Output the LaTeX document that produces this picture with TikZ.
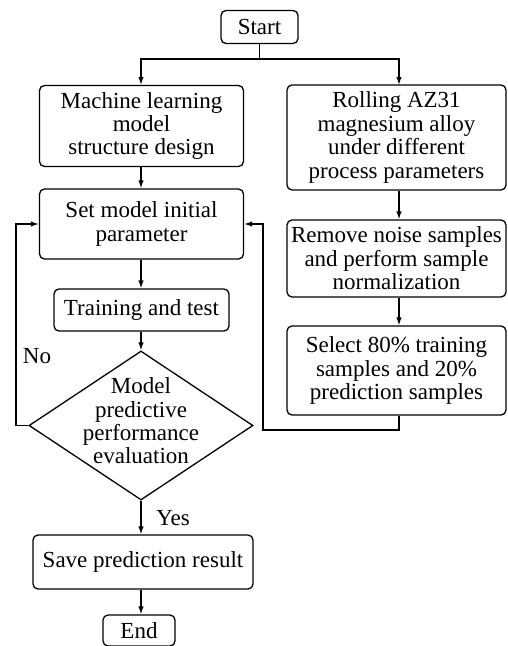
\documentclass[tikz,border=0pt]{standalone}
\usepackage{fontspec}
\setmainfont{Liberation Serif}
\usetikzlibrary{arrows.meta,shapes.geometric}
\begin{document}
\begin{tikzpicture}[x=1pt,y=-1pt,
  box/.style={draw, rounded corners=5pt, line width=1.3pt, align=center, inner sep=0pt, font=\fontsize{23}{23.4}\selectfont},
  lbl/.style={inner sep=0pt, font=\fontsize{23}{23.4}\selectfont},
  arr/.style={-{Latex[length=8pt,width=5.5pt]}, line width=1.3pt},
  ln/.style={line width=1.3pt}]
\useasboundingbox (0,0) rectangle (507,646);

\node[box, minimum width=77pt, minimum height=33pt] (start) at (259.5,27) {Start};
\node[box, minimum width=204pt, minimum height=81pt] (ml) at (141.5,126) {Machine learning\\model\\structure design};
\node[box, minimum width=219pt, minimum height=105pt] (roll) at (396.5,137.5) {Rolling AZ31\\magnesium alloy\\under different\\process parameters};
\node[box, minimum width=204pt, minimum height=70pt] (set) at (141.5,224) {Set model initial\\parameter};
\node[box, minimum width=219pt, minimum height=77pt] (remove) at (396.5,258.5) {Remove noise samples\\and perform sample\\normalization};
\node[box, minimum width=175pt, minimum height=42pt] (train) at (141.5,310) {Training and test};
\node[draw, diamond, line width=1.3pt, inner sep=0pt, minimum width=224pt, minimum height=149pt] (dia) at (141,425.5) {};
\node[lbl, align=center] (diatext) at (141,421) {Model\\predictive\\performance\\evaluation};
\node[box, minimum width=219pt, minimum height=89pt] (select) at (396.5,370.5) {Select 80\% training\\samples and 20\%\\prediction samples};
\node[box, minimum width=220pt, minimum height=54pt] (save) at (143,562) {Save prediction result};
\node[box, minimum width=72pt, minimum height=31pt] (end) at (139,630.5) {End};

\node[lbl] (no) at (37,356) {No};
\node[lbl] (yes) at (173,518) {Yes};

\coordinate (split) at (259.5,59);
\coordinate (noleft) at (16,425.5);
\coordinate (selbot) at (399,430);
\coordinate (selleft) at (263,430);

\draw[ln] (start.south) -- (split);
\draw[arr] (split) -| (141,85);
\draw[arr] (split) -| (399,85);
\draw[arr] (ml.south -| 141,0) -- (set.north -| 141,0);
\draw[arr] (set.south -| 141,0) -- (train.north -| 141,0);
\draw[arr] (train.south -| 141,0) -- (dia.north);
\draw[arr] (dia.south) -- (save.north -| dia.south);
\draw[arr] (save.south -| dia.south) -- (end.north -| dia.south);
\draw[arr] (roll.south -| 399,0) -- (remove.north -| 399,0);
\draw[arr] (remove.south -| 399,0) -- (select.north -| 399,0);
\draw[arr] (dia.west) -- (noleft) |- (set.west);
\draw[arr] (select.south -| selbot) -- (selbot) -- (selleft) |- (set.east);
\end{tikzpicture}
\end{document}
